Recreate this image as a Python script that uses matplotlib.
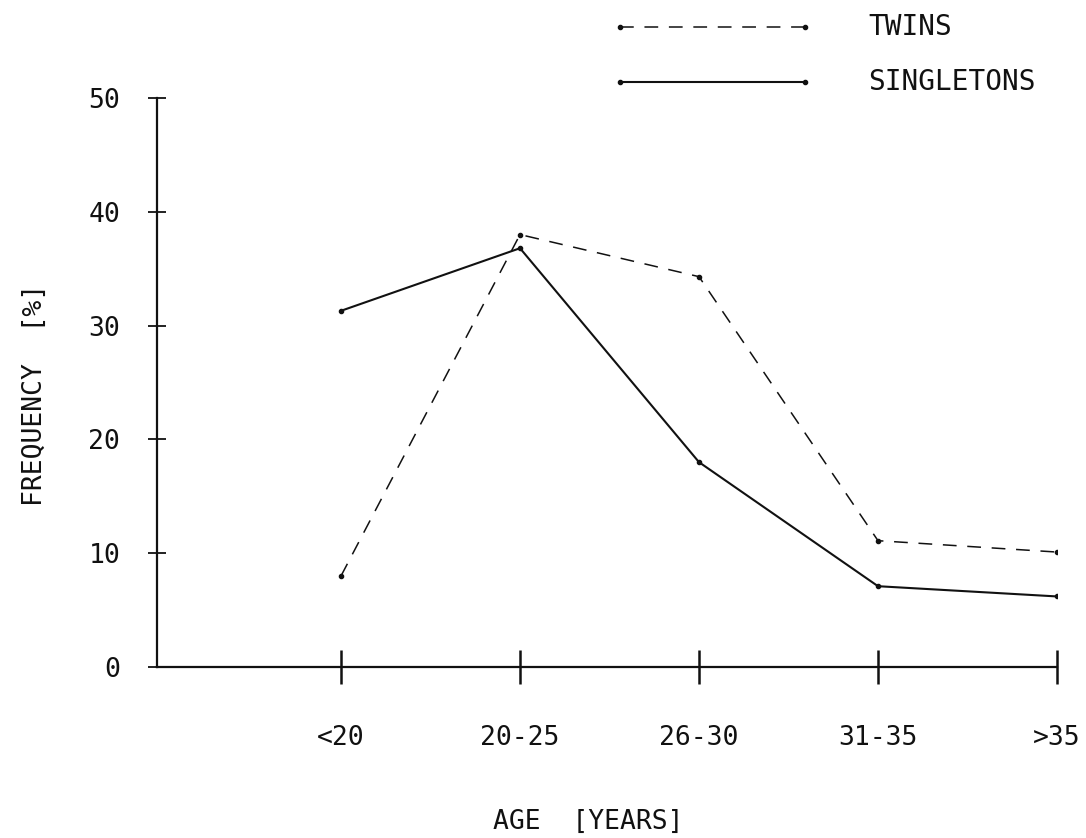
import matplotlib
matplotlib.use("Agg")
import matplotlib.pyplot as plt
from matplotlib.lines import Line2D

# age groups of the mothers and frequency (%) of each group
age_groups = ["<20", "20-25", "26-30", "31-35", ">35"]
twins = [8.0, 38.0, 34.3, 11.1, 10.1]
singletons = [31.3, 36.8, 18.0, 7.1, 6.2]
y_ticks = [0, 10, 20, 30, 40, 50]

plt.rcParams["font.family"] = ["DejaVu Sans Mono"]
ink = "#111111"

fig = plt.figure(figsize=(10.86, 8.38), dpi=100)
ax = fig.add_axes([157 / 1086, 1 - 667 / 838, 900 / 1086, 569 / 838])

x = list(range(len(age_groups)))
ax.plot(x, twins, color=ink, lw=1.1, dashes=(9, 7), marker="o", ms=3)
ax.plot(x, singletons, color=ink, lw=1.5, marker="o", ms=3)

ax.set_xlim(-1.028, 4)
ax.set_ylim(0, 50)
ax.set_xticks(x)
ax.set_xticklabels(age_groups)
ax.set_yticks(y_ticks)

for side in ["top", "right"]:
    ax.spines[side].set_visible(False)
for side in ["left", "bottom"]:
    ax.spines[side].set_linewidth(1.6)
    ax.spines[side].set_color(ink)
    ax.spines[side].set_clip_on(False)

ax.tick_params(axis="x", direction="inout", length=25, width=1.8, pad=29,
               labelsize=19, colors=ink)
ax.tick_params(axis="y", direction="inout", length=13, width=1.3, pad=20,
               labelsize=19, colors=ink)

fig.text(35 / 1086, 1 - 395 / 838, "FREQUENCY  [%]", rotation=90,
         ha="center", va="center", fontsize=19, color=ink)
fig.text(588 / 1086, 1 - 822 / 838, "AGE  [YEARS]",
         ha="center", va="center", fontsize=19, color=ink)

# key in the upper right corner
for ypix, style, width, label in [(27, (9, 7), 1.1, "TWINS"),
                                  (82, None, 1.5, "SINGLETONS")]:
    yf = 1 - ypix / 838
    line = Line2D([620 / 1086, 805 / 1086], [yf, yf], color=ink, lw=width,
                  marker="o", ms=3, transform=fig.transFigure)
    if style:
        line.set_dashes(style)
    fig.add_artist(line)
    fig.text(868 / 1086, yf, label, ha="left", va="center",
             fontsize=20, color=ink)

fig.savefig("out.png", dpi=100, facecolor="white")
